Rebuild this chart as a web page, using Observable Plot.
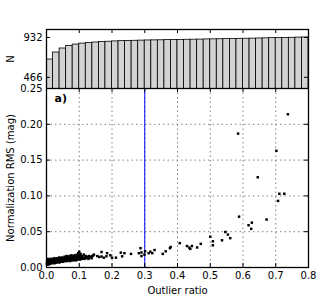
<!DOCTYPE html>
<html><head><meta charset="utf-8">
<script src="https://cdn.jsdelivr.net/npm/d3@7"></script>
<script src="https://cdn.jsdelivr.net/npm/@observablehq/plot@0.6"></script>
<style>
body{margin:0;background:#fff;}
#wrap{position:relative;width:327px;height:296px;}
#wrap svg{position:absolute;left:0;top:0;background:transparent;}
</style></head><body><div id="wrap"></div>
<script>
// ---- data ----
const binWidth = 0.02;
const cumulativeN = [674,756,803,833,849,860,868,873,878,882,886,889,891,893,895,897,898,899,901,902,903,905,906,907,909,910,911,913,914,916,917,918,920,922,924,925,927,928,930,932];
const ratio = [
0.001,0.002,0.002,0.003,0.004,0.005,0.005,0.006,0.007,0.008,0.009,0.010,0.010,0.011,0.012,0.013,0.014,0.015,0.016,0.017,0.018,0.019,0.020,0.021,0.022,0.023,0.024,0.025,0.026,0.027,0.028,0.029,0.030,
0.031,0.032,0.033,0.034,0.035,0.036,0.037,0.038,0.039,0.040,0.041,0.042,0.043,0.044,0.045,0.046,0.047,0.048,0.049,0.050,0.051,0.052,0.053,0.054,0.055,0.056,0.057,0.058,0.059,0.060,
0.061,0.062,0.063,0.064,0.065,0.066,0.067,0.068,0.069,0.070,0.071,0.072,0.073,0.074,0.075,0.076,0.077,0.078,0.079,0.080,0.081,0.082,0.083,0.084,0.085,0.086,0.087,0.088,0.089,0.090,0.091,0.092,0.093,0.094,0.095,0.096,0.097,0.098,0.099,0.100,0.100,0.101,0.102,0.103,0.104,0.105,
0.107,0.108,0.110,0.112,0.114,0.116,0.118,0.120,0.122,0.124,0.126,0.128,0.130,0.132,0.135,0.138,0.140,0.143,0.145,
0.155,0.161,0.168,0.168,0.175,0.183,0.185,0.195,0.200,0.212,0.227,0.231,0.238,0.258,0.282,0.287,0.290,0.290,0.299,0.301,0.312,0.317,0.323,0.330,0.355,0.364,0.377,0.379,0.407,0.429,0.436,0.439,0.444,0.460,0.471,0.500,0.508,0.508,0.536,0.546,0.554,0.561,0.585,0.588,0.617,0.625,0.627,0.645,0.672,0.702,0.707,0.711,0.726,0.737
];
const rms = [
0.005,0.008,0.011,0.006,0.009,0.004,0.012,0.007,0.010,0.006,0.008,0.011,0.005,0.009,0.007,0.012,0.006,0.010,0.008,0.011,0.006,0.009,0.012,0.007,0.010,0.008,0.013,0.006,0.011,0.009,0.007,0.012,0.010,
0.008,0.013,0.007,0.011,0.009,0.012,0.008,0.010,0.014,0.007,0.011,0.009,0.013,0.008,0.012,0.010,0.014,0.009,0.011,0.008,0.013,0.010,0.012,0.009,0.015,0.011,0.009,0.013,0.010,0.012,
0.016,0.009,0.013,0.011,0.015,0.010,0.012,0.014,0.010,0.016,0.012,0.009,0.014,0.011,0.013,0.017,0.010,0.012,0.015,0.011,0.013,0.016,0.010,0.014,0.012,0.017,0.011,0.013,0.015,0.010,0.014,0.012,0.018,0.011,0.015,0.013,0.020,0.012,0.016,0.022,0.014,0.018,0.011,0.015,0.019,0.013,
0.016,0.012,0.015,0.013,0.018,0.012,0.014,0.016,0.013,0.015,0.014,0.012,0.016,0.014,0.015,0.013,0.016,0.017,0.018,
0.016,0.0147,0.0216,0.0153,0.0137,0.0156,0.020,0.017,0.0137,0.0137,0.0207,0.0156,0.020,0.019,0.020,0.027,0.021,0.016,0.018,0.0226,0.020,0.022,0.020,0.0244,0.019,0.0226,0.027,0.0286,0.034,0.030,0.0277,0.026,0.030,0.028,0.033,0.043,0.0366,0.031,0.038,0.0496,0.046,0.041,0.187,0.071,0.059,0.054,0.0626,0.126,0.067,0.163,0.093,0.103,0.103,0.214
];
const ratioTicks = [0,0.1,0.2,0.3,0.4,0.5,0.6,0.7,0.8];
const rmsTicks = [0,0.05,0.10,0.15,0.20,0.25];
const nTicks = [466,932];
const cutRatio = 0.3;

// ---- layout ----
const W = 327, H = 296, mL = 46, mR = 19, topT = 29, splitY = 88, mB = 29;
const innerW = W - mL - mR, botH = H - splitY - mB, topH = splitY - topT, tk = 4;
const font = "'DejaVu Sans', sans-serif";

const bins = cumulativeN.map((n, i) => ({x1: i * binWidth, x2: (i + 1) * binWidth, n}));
const pts = ratio.map((r, i) => ({r, s: rms[i]}));
const grid = {stroke: "#808080", strokeOpacity: 1, strokeWidth: 1, strokeDasharray: "1.5,3"};

const mainPlot = Plot.plot({
  width: W, height: H, marginLeft: mL, marginRight: mR, marginTop: splitY, marginBottom: mB,
  style: {fontFamily: font, fontSize: "10px", background: "transparent", color: "black"},
  x: {domain: [0, 0.8]}, y: {domain: [0, 0.25]},
  marks: [
    Plot.gridX(ratioTicks.slice(1, -1), grid),
    Plot.gridY(rmsTicks.slice(1, -1), grid),
    Plot.ruleX([cutRatio], {stroke: "blue", strokeWidth: 1}),
    Plot.dot(pts, {x: "r", y: "s", symbol: "square", r: 1.4, fill: "black", stroke: null}),
    Plot.tickX(ratioTicks, {x: d => d, insetTop: botH - tk, stroke: "black"}),
    Plot.tickX(ratioTicks, {x: d => d, insetBottom: botH - tk, stroke: "black"}),
    Plot.tickY(rmsTicks, {y: d => d, insetRight: innerW - tk, stroke: "black"}),
    Plot.tickY(rmsTicks, {y: d => d, insetLeft: innerW - tk, stroke: "black"}),
    Plot.axisX(ratioTicks, {tickSize: 0, tickPadding: 4, tickFormat: ".1f", label: "Outlier ratio", labelArrow: false, labelAnchor: "center", labelOffset: 26}),
    Plot.axisY(rmsTicks, {tickSize: 0, tickPadding: 4, tickFormat: ".2f", label: "Normalization RMS (mag)", labelArrow: false, labelAnchor: "center", labelOffset: 40}),
    Plot.frame({stroke: "black", strokeWidth: 1.3}),
    Plot.text(["a)"], {text: d => d, frameAnchor: "top-left", dx: 8, dy: 6, fontWeight: "bold", fontSize: 11, lineAnchor: "top"})
  ]
});

const histPlot = Plot.plot({
  width: W, height: splitY, marginLeft: mL, marginRight: mR, marginTop: topT, marginBottom: 0,
  style: {fontFamily: font, fontSize: "10px", background: "transparent", color: "black"},
  x: {domain: [0, 0.8], axis: null}, y: {domain: [335.5, 1025]},
  marks: [
    Plot.rectY(bins, {x1: "x1", x2: "x2", y: "n", fill: "#d3d3d3", stroke: "black", strokeWidth: 0.8, clip: true}),
    Plot.tickX(ratioTicks, {x: d => d, insetBottom: topH - tk, stroke: "black"}),
    Plot.tickY(nTicks, {y: d => d, insetRight: innerW - tk, stroke: "black"}),
    Plot.tickY(nTicks, {y: d => d, insetLeft: innerW - tk, stroke: "black"}),
    Plot.axisY(nTicks, {tickSize: 0, tickPadding: 4, label: "N", labelArrow: false, labelAnchor: "center", labelOffset: 40}),
    Plot.frame({stroke: "black", strokeWidth: 1.3})
  ]
});

document.getElementById("wrap").append(mainPlot, histPlot);
</script></body></html>
